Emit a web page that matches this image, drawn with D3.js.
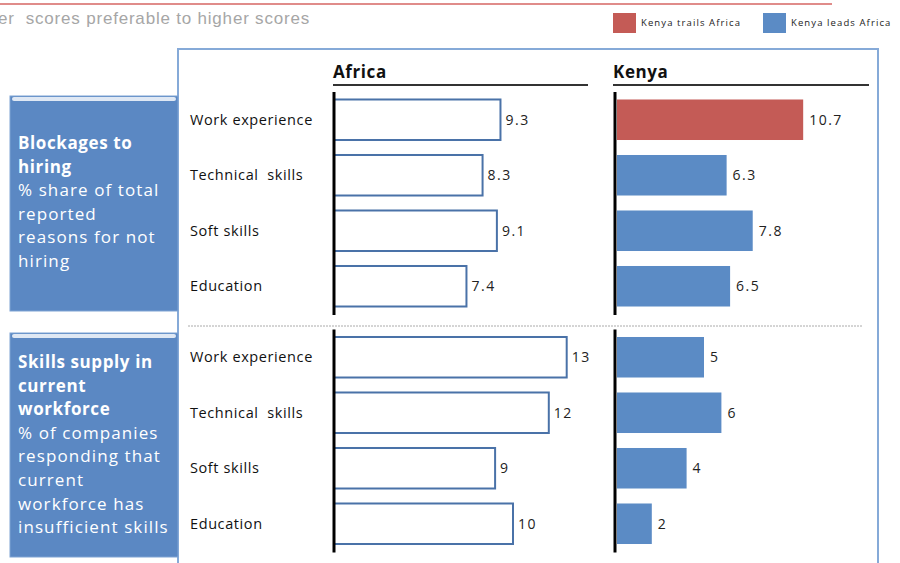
<!DOCTYPE html>
<html>
<head>
<meta charset="utf-8">
<script src="https://cdn.jsdelivr.net/npm/d3@7"></script>
<style>
  body { margin: 0; background: #fff; }
  svg { display: block; font-family: "Open Sans", "Liberation Sans", sans-serif; }
  svg text { white-space: pre; }
</style>
</head>
<body>
<div id="chart"></div>
<script>
const categories = ["Work experience", "Technical  skills", "Soft skills", "Education"];

const blockAfrica = [9.3, 8.3, 9.1, 7.4];
const blockKenya = [10.7, 6.3, 7.8, 6.5];
const blockLabels = ["9.3", "8.3", "9.1", "7.4"];
const blockKenyaLabels = ["10.7", "6.3", "7.8", "6.5"];

const supplyAfrica = [13, 12, 9, 10];
const supplyKenya = [5, 6, 4, 2];

const blockTitle = ["Blockages to", "hiring"];
const blockSub = ["% share of total", "reported", "reasons for not", "hiring"];
const supplyTitle = ["Skills supply in", "current", "workforce"];
const supplySub = ["% of companies", "responding that", "current", "workforce has", "insufficient skills"];

const legendItems = ["Kenya trails Africa", "Kenya leads Africa"];

const width = 900, height = 563;
const red = "#c45b56", blue = "#5b8bc5", boxBlue = "#5b88c3";

const svg = d3.select("#chart")
  .append("svg")
  .attr("width", width)
  .attr("height", height);

// top rule + subtitle (cut off at the left edge, as in the source)
svg.append("line")
  .attr("x1", 0).attr("x2", 832)
  .attr("y1", 4).attr("y2", 4)
  .attr("stroke", "#e08c8a")
  .attr("stroke-width", 2);

svg.append("text")
  .attr("x", 310)
  .attr("y", 24)
  .attr("text-anchor", "end")
  .style("font-family", "'Liberation Sans', Arial, sans-serif")
  .style("font-size", "17px")
  .style("letter-spacing", "0.8px")
  .style("fill", "#a6a6a6")
  .text("Lower  scores preferable to higher scores");

// legend
const legend = svg.append("g");
const legendX = [613, 763];
legendItems.forEach((t, i) => {
  legend.append("rect")
    .attr("x", legendX[i]).attr("y", 13)
    .attr("width", 23).attr("height", 20)
    .attr("fill", i === 0 ? red : blue);
  legend.append("text")
    .attr("x", legendX[i] + 28).attr("y", 26)
    .style("font-size", "9.5px")
    .style("letter-spacing", "1.1px")
    .style("fill", "#222")
    .text(t);
});

// frame
svg.append("rect")
  .attr("x", 178).attr("y", 49)
  .attr("width", 700).attr("height", 530)
  .attr("fill", "none")
  .attr("stroke", "#86aad8")
  .attr("stroke-width", 2);

// scales
const xAfrica = d3.scaleLinear().domain([0, 14]).range([334, 334 + 14 * 17.9]);
const xKenya = d3.scaleLinear().domain([0, 14]).range([617, 617 + 14 * 17.4]);

const yTop = d3.scaleBand().domain(categories).range([92, 314]).paddingInner(0.27).paddingOuter(0.135);
const yBottom = d3.scaleBand().domain(categories).range([329.5, 551.5]).paddingInner(0.27).paddingOuter(0.135);

// panel headers
[["Africa", 333, 588], ["Kenya", 613, 869]].forEach(([t, x0, x1]) => {
  svg.append("text")
    .attr("x", x0).attr("y", 78)
    .style("font-size", "17px")
    .style("letter-spacing", "0.6px")
    .style("font-weight", "bold")
    .style("fill", "#111")
    .text(t);
  svg.append("line")
    .attr("x1", x0).attr("x2", x1)
    .attr("y1", 85).attr("y2", 85)
    .attr("stroke", "#333")
    .attr("stroke-width", 2);
});

// dotted separator
svg.append("line")
  .attr("x1", 188).attr("x2", 862)
  .attr("y1", 326).attr("y2", 326)
  .attr("stroke", "#aaa")
  .attr("stroke-width", 1)
  .attr("stroke-dasharray", "2,1");

function drawBox(y0, h, titleLines, subLines, firstBaseline) {
  const g = svg.append("g");
  g.append("rect")
    .attr("x", 10).attr("y", y0)
    .attr("width", 168).attr("height", h)
    .attr("fill", boxBlue)
    .attr("stroke", "#7fa3d3")
    .attr("stroke-width", 1);
  g.append("rect")
    .attr("x", 12).attr("y", y0 + 1)
    .attr("width", 164).attr("height", 4)
    .attr("fill", "#dfe8f4")
    .attr("rx", 2);
  const lines = titleLines.map(t => ({t, bold: true}))
    .concat(subLines.map(t => ({t, bold: false})));
  g.selectAll("text.box-line")
    .data(lines)
    .enter()
    .append("text")
    .attr("class", "box-line")
    .attr("x", 18)
    .attr("y", (d, i) => firstBaseline + i * 23.6)
    .style("font-size", "17px")
    .style("letter-spacing", d => d.bold ? "0.6px" : "1.1px")
    .style("font-weight", d => d.bold ? "bold" : "normal")
    .style("fill", "#fff")
    .text(d => d.t);
}

drawBox(96, 215, blockTitle, blockSub, 149);
drawBox(333, 224, supplyTitle, supplySub, 368);

function drawGroup(y, africa, kenya, aLabels, kLabels) {
  const rows = categories.map((c, i) => ({
    c, a: africa[i], k: kenya[i],
    al: aLabels ? aLabels[i] : String(africa[i]),
    kl: kLabels ? kLabels[i] : String(kenya[i])
  }));

  svg.selectAll(null)
    .data(rows)
    .enter()
    .append("text")
    .attr("x", 190)
    .attr("y", d => y(d.c) + y.bandwidth() / 2 + 5)
    .style("font-size", "14.5px")
    .style("letter-spacing", "0.6px")
    .style("fill", "#111")
    .text(d => d.c);

  svg.selectAll(null)
    .data(rows)
    .enter()
    .append("rect")
    .attr("x", xAfrica(0))
    .attr("y", d => y(d.c))
    .attr("width", d => xAfrica(d.a) - xAfrica(0))
    .attr("height", y.bandwidth())
    .attr("fill", "#fff")
    .attr("stroke", "#4a72a8")
    .attr("stroke-width", 2);

  svg.selectAll(null)
    .data(rows)
    .enter()
    .append("text")
    .attr("x", d => xAfrica(d.a) + 5)
    .attr("y", d => y(d.c) + y.bandwidth() / 2 + 5)
    .style("font-size", "14px")
    .style("letter-spacing", "1.5px")
    .style("fill", "#222")
    .text(d => d.al);

  svg.selectAll(null)
    .data(rows)
    .enter()
    .append("rect")
    .attr("x", xKenya(0))
    .attr("y", d => y(d.c))
    .attr("width", d => xKenya(d.k) - xKenya(0))
    .attr("height", y.bandwidth())
    .attr("fill", d => d.k > d.a ? red : blue);

  svg.selectAll(null)
    .data(rows)
    .enter()
    .append("text")
    .attr("x", d => xKenya(d.k) + 6)
    .attr("y", d => y(d.c) + y.bandwidth() / 2 + 5)
    .style("font-size", "14px")
    .style("letter-spacing", "1.5px")
    .style("fill", "#222")
    .text(d => d.kl);

  const [r0, r1] = y.range();
  [xAfrica(0), xKenya(0) - 2].forEach(x => {
    svg.append("line")
      .attr("x1", x).attr("x2", x)
      .attr("y1", r0).attr("y2", r1 + 1)
      .attr("stroke", "#000")
      .attr("stroke-width", 3);
  });
}

drawGroup(yTop, blockAfrica, blockKenya, blockLabels, blockKenyaLabels);
drawGroup(yBottom, supplyAfrica, supplyKenya);
</script>
</body>
</html>
